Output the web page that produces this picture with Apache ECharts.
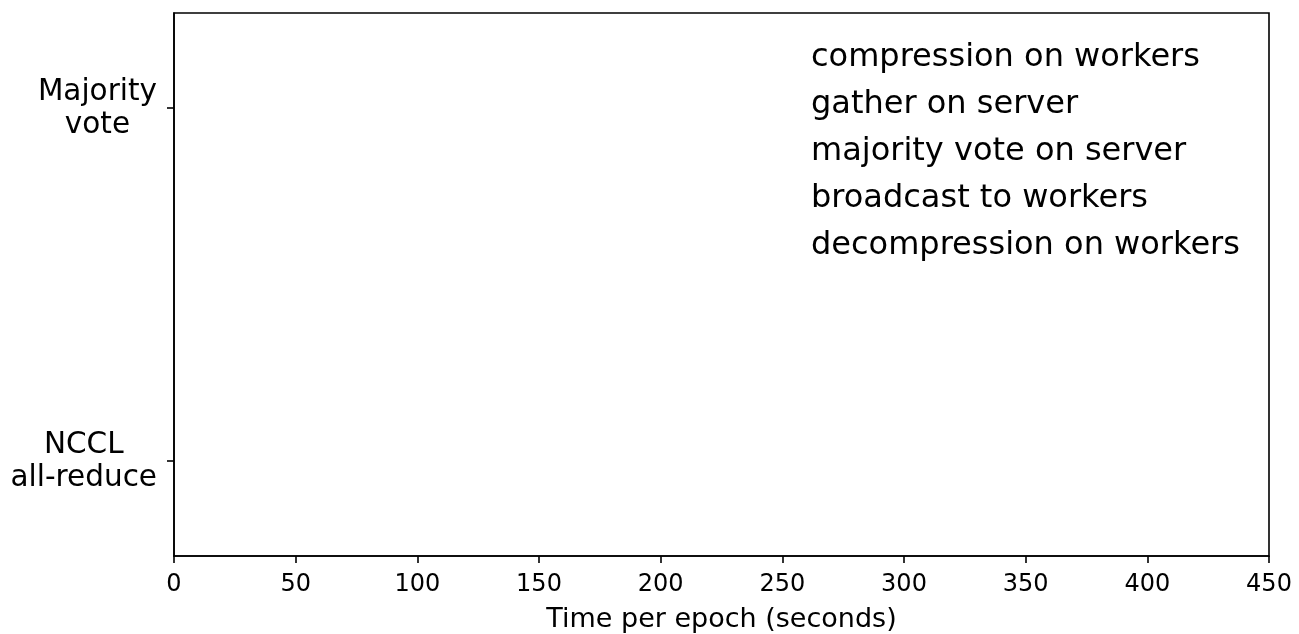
<!DOCTYPE html>
<html>
<head>
<meta charset="utf-8">
<script src="https://cdn.jsdelivr.net/npm/echarts@6/dist/echarts.min.js"></script>
<style>html,body{margin:0;padding:0;background:#fff;}#c{width:1299px;height:634px;}</style>
</head>
<body>
<div id="c"></div>
<script>
// Data
var methodLabels = ['NCCL\nall-reduce', 'Majority\nvote'];
var methodPositions = [0, 1];
var stageNames = ['compression on workers', 'gather on server', 'majority vote on server', 'broadcast to workers', 'decompression on workers'];
// No bars are visible in the reference: every stage series is empty.
var compressionValues = [];
var gatherValues = [];
var voteValues = [];
var broadcastValues = [];
var decompressionValues = [];
var xTicks = [0, 50, 100, 150, 200, 250, 300, 350, 400, 450];

var stageValues = [compressionValues, gatherValues, voteValues, broadcastValues, decompressionValues];
var FONT = 'DejaVu Sans';

var chart = echarts.init(document.getElementById('c'), null, {renderer: 'canvas'});
var option = {
  animation: false,
  backgroundColor: '#fff',
  textStyle: {fontFamily: FONT, color: '#000'},
  grid: {left: 174, right: 30, top: 13, bottom: 78, outerBoundsMode: 'none', containLabel: false, show: true, borderColor: '#000', borderWidth: 1.6, backgroundColor: 'transparent'},
  legend: {
    orient: 'vertical', left: 806, top: 41.5, padding: 0,
    itemWidth: 0, itemHeight: 32, itemGap: 15,
    icon: 'rect', itemStyle: {color: 'rgba(0,0,0,0)', borderWidth: 0},
    selectedMode: false,
    textStyle: {fontFamily: FONT, fontSize: 32, color: '#000', lineHeight: 32},
    data: stageNames
  },
  xAxis: {
    type: 'value', min: xTicks[0], max: xTicks[xTicks.length - 1], interval: 50,
    name: 'Time per epoch (seconds)', nameLocation: 'middle', nameGap: 50,
    nameTextStyle: {fontFamily: FONT, fontSize: 27, color: '#000'},
    axisLine: {show: true, onZero: false, lineStyle: {color: '#000', width: 1.6}},
    axisTick: {show: true, length: 7, lineStyle: {color: '#000', width: 1.6}},
    axisLabel: {fontFamily: FONT, fontSize: 24, color: '#000', margin: 17},
    splitLine: {show: false}
  },
  yAxis: {
    type: 'value', min: -0.27, max: 1.27,
    axisLine: {show: true, onZero: false, lineStyle: {color: '#000', width: 1.6}},
    axisTick: {show: true, length: 7, customValues: methodPositions, lineStyle: {color: '#000', width: 1.6}},
    axisLabel: {
      customValues: methodPositions, margin: 17, fontFamily: FONT, fontSize: 29.5, color: '#000', lineHeight: 33,
      formatter: function (v) {
        var idx = methodPositions.indexOf(Math.round(v));
        if (idx < 0) return '';
        return methodLabels[idx].split('\n').map(function (s) { return '{a|' + s + '}'; }).join('\n');
      },
      rich: {a: {align: 'center', fontFamily: FONT, fontSize: 29.5, color: '#000', lineHeight: 33, padding: [2, 0, 0, 0]}}
    },
    splitLine: {show: false}
  },
  series: stageNames.map(function (name, i) {
    return {
      name: name, type: 'bar', stack: 'total', barWidth: '40%',
      encode: {x: 0, y: 1},
      data: stageValues[i]
    };
  })
};
chart.setOption(option);
</script>
</body>
</html>
